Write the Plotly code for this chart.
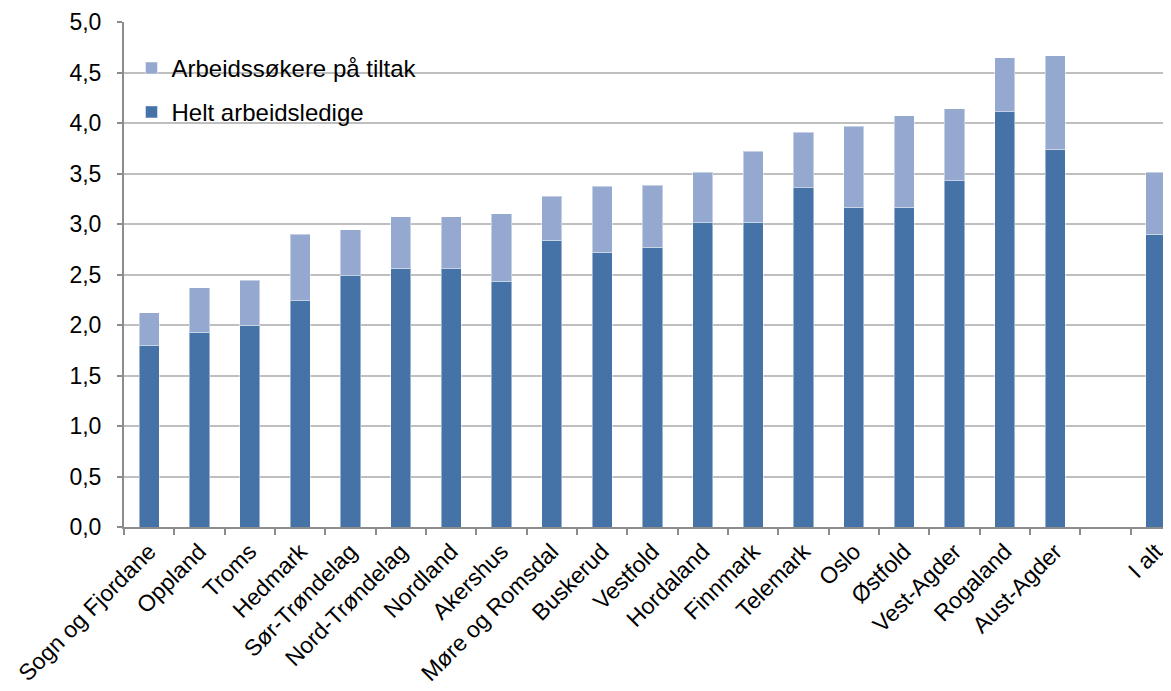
import plotly.graph_objects as go

categories = ["Sogn og Fjordane", "Oppland", "Troms", "Hedmark", "Sør-Trøndelag",
              "Nord-Trøndelag", "Nordland", "Akershus", "Møre og Romsdal", "Buskerud",
              "Vestfold", "Hordaland", "Finnmark", "Telemark", "Oslo", "Østfold",
              "Vest-Agder", "Rogaland", "Aust-Agder", " ", "I alt"]

helt_ledige = [1.80, 1.93, 2.00, 2.24, 2.49, 2.56, 2.555, 2.435, 2.84, 2.72,
               2.77, 3.01, 3.015, 3.36, 3.165, 3.165, 3.43, 4.11, 3.74, None, 2.90]

totalt = [2.12, 2.37, 2.445, 2.90, 2.945, 3.07, 3.07, 3.10, 3.275, 3.375,
          3.385, 3.51, 3.72, 3.91, 3.97, 4.07, 4.14, 4.645, 4.665, None, 3.51]

tiltak = [None if (t is None or h is None) else round(t - h, 3) for t, h in zip(totalt, helt_ledige)]

y_ticks = [0.0, 0.5, 1.0, 1.5, 2.0, 2.5, 3.0, 3.5, 4.0, 4.5, 5.0]

DARK = "#4673a7"
LIGHT = "#95a9d0"
FONT = "Liberation Sans, Arial, sans-serif"

# page body has an 8px default margin; figure sized to fill the rest of the window
OFF = 8
W, H = 1171 - OFF, 691 - OFF
L = 123.5 - OFF
T = 21.5 - OFF
B = H - (527.5 - OFF)
PW, PH = W - L, H - T - B


def px_x(px):
    return (px - OFF - L) / PW


def px_y(py):
    return (H - B - (py - OFF)) / PH


fig = go.Figure()
fig.add_trace(go.Bar(
    x=categories, y=helt_ledige, name="Helt arbeidsledige",
    marker=dict(color=DARK, line=dict(color="rgba(255,255,255,0.45)", width=1)),
    width=0.4, legend="legend2",
))
fig.add_trace(go.Bar(
    x=categories, y=tiltak, name="Arbeidssøkere på tiltak",
    marker=dict(color=LIGHT, line=dict(color="rgba(255,255,255,0.45)", width=1)),
    width=0.4, legend="legend",
))

fig.update_layout(
    barmode="stack",
    width=W, height=H, autosize=False,
    margin=dict(l=L, r=0, t=T, b=B, pad=0, autoexpand=False),
    paper_bgcolor="white", plot_bgcolor="white",
    separators=", ",
    font=dict(family=FONT, size=23, color="#000000"),
    showlegend=True,
    legend=dict(x=px_x(131), y=px_y(68),
                xanchor="left", yanchor="middle", bgcolor="rgba(0,0,0,0)",
                font=dict(family=FONT, size=24, color="#000000")),
    legend2=dict(x=px_x(131), y=px_y(112),
                 xanchor="left", yanchor="middle", bgcolor="rgba(0,0,0,0)",
                 font=dict(family=FONT, size=24, color="#000000")),
    xaxis=dict(
        type="category", categoryorder="array", categoryarray=categories,
        range=[-0.5, 20.3],
        tickson="boundaries", ticks="outside", ticklen=6, tickwidth=1.5, tickcolor="#8c8c8c",
        tickangle=-45, showgrid=False, zeroline=False,
        showline=True, linecolor="#8c8c8c", linewidth=2,
        tickfont=dict(family=FONT, size=23, color="#000000"),
    ),
    yaxis=dict(
        range=[0, 5], tickvals=y_ticks, tickformat=".1f",
        ticks="outside", ticklen=5, tickwidth=1.5, tickcolor="#8c8c8c",
        showgrid=True, gridcolor="#bfbfbf", gridwidth=1.7,
        zeroline=False, showline=True, linecolor="#8c8c8c", linewidth=2,
        ticklabelstandoff=11,
        tickfont=dict(family=FONT, size=23, color="#000000"),
    ),
)

fig.write_html("out.html")
